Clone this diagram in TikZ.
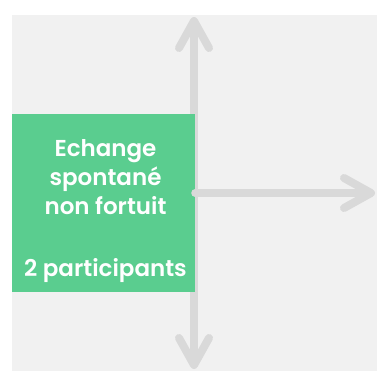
\documentclass[tikz,border=0pt]{standalone}
\usepackage{fontspec}
\setmainfont{Poppins}[BoldFont={Poppins SemiBold}]
\usetikzlibrary{arrows.meta,positioning}
\definecolor{boxgreen}{RGB}{90,205,143}
\definecolor{panelgray}{RGB}{241,241,241}
\definecolor{axisgray}{RGB}{217,217,217}
\tikzset{>={Straight Barb[length=27pt,width=30pt,round]},
  axis/.style={draw=axisgray,line width=8pt,line cap=round},
  main node/.style={rectangle,fill=boxgreen,minimum width=183pt,minimum height=178pt,inner sep=0pt},
  box text/.style={text=white,align=center,inner sep=0pt,font=\fontsize{23}{29}\selectfont\bfseries}}

\begin{document}
\begin{tikzpicture}[x=1pt,y=-1pt]
    \useasboundingbox (0,0) rectangle (379,373);
    \fill[panelgray] (12,15) rectangle (377,371);
    \coordinate (top) at (194,17);
    \coordinate (bottom) at (194,369);
    \coordinate (right) at (375,193);
    \draw[axis,<->] (bottom) -- (top);
    \node[main node] (v1) at (103.5,203) {};
    \node[box text] (t1) at ([xshift=2pt,yshift=-8pt]v1.center) {Echange\\spontané\\non fortuit\\[33pt]2 participants};
    \draw[axis,->] (v1.east |- right) -- (right);
  \end{tikzpicture}
\end{document}
